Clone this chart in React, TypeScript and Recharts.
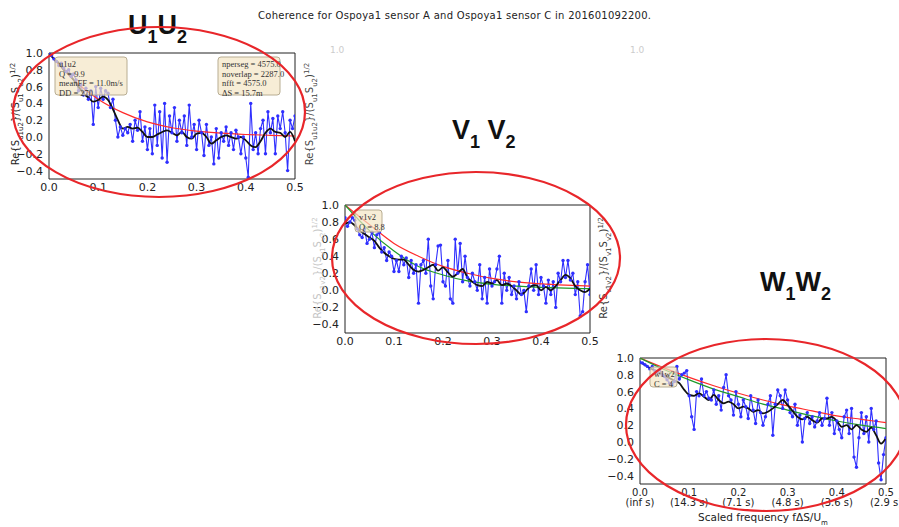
import { LineChart, Line, XAxis, YAxis, ReferenceArea } from "recharts";

// frequency grids (scaled frequency fΔS/U)
const FREQ_FINE = [
  0, 0.005, 0.01, 0.015, 0.02, 0.025, 0.03, 0.035, 0.04, 0.045,
  0.05, 0.055, 0.06, 0.065, 0.07, 0.075, 0.08, 0.085, 0.09, 0.095,
  0.1, 0.105, 0.11, 0.115, 0.12, 0.125, 0.13, 0.135, 0.14, 0.145,
  0.15, 0.155, 0.16, 0.165, 0.17, 0.175, 0.18, 0.185, 0.19, 0.195,
  0.2, 0.205, 0.21, 0.215, 0.22, 0.225, 0.23, 0.235, 0.24, 0.245,
  0.25, 0.255, 0.26, 0.265, 0.27, 0.275, 0.28, 0.285, 0.29, 0.295,
  0.3, 0.305, 0.31, 0.315, 0.32, 0.325, 0.33, 0.335, 0.34, 0.345,
  0.35, 0.355, 0.36, 0.365, 0.37, 0.375, 0.38, 0.385, 0.39, 0.395,
  0.4, 0.405, 0.41, 0.415, 0.42, 0.425, 0.43, 0.435, 0.44, 0.445,
  0.45, 0.455, 0.46, 0.465, 0.47, 0.475, 0.48, 0.485, 0.49, 0.495, 0.5,
];
const FREQ_COARSE = [
  0, 0.01, 0.02, 0.03, 0.04, 0.05, 0.06, 0.07, 0.08, 0.09,
  0.1, 0.11, 0.12, 0.13, 0.14, 0.15, 0.16, 0.17, 0.18, 0.19,
  0.2, 0.21, 0.22, 0.23, 0.24, 0.25, 0.26, 0.27, 0.28, 0.29,
  0.3, 0.31, 0.32, 0.33, 0.34, 0.35, 0.36, 0.37, 0.38, 0.39,
  0.4, 0.41, 0.42, 0.43, 0.44, 0.45, 0.46, 0.47, 0.48, 0.49, 0.5,
];
const FREQ_FIT = [0, 0.05, 0.1, 0.15, 0.2, 0.25, 0.3, 0.35, 0.4, 0.45, 0.5];

const X_TICKS = [0, 0.1, 0.2, 0.3, 0.4, 0.5];
const Y_TICKS = [-0.4, -0.2, 0, 0.2, 0.4, 0.6, 0.8, 1.0];
const PERIOD_LABELS = ["(inf s)", "(14.3 s)", "(7.1 s)", "(4.8 s)", "(3.6 s)", "(2.9 s)"];

// u1u2
const U_RAW = [
  1.0, 0.97, 0.93, 0.9, 0.85, 0.88, 0.82, 0.78, 0.8, 0.72,
  0.75, 0.68, 0.55, 0.62, 0.5, 0.58, 0.45, 0.55, 0.15, 0.6,
  0.35, 0.58, 0.45, 0.55, 0.52, 0.35, 0.45, 0.2, 0.0, 0.12,
  0.02, 0.1, 0.05, 0.15, -0.05, 0.2, 0.08, 0.3, -0.05, 0.12,
  -0.15, 0.1, -0.2, 0.38, -0.1, 0.3, -0.25, 0.4, -0.3, 0.25,
  0.05, 0.35, -0.05, 0.2, 0.05, 0.25, -0.1, 0.38, 0.0, 0.15,
  -0.15, 0.2, 0.05, -0.22, 0.15, -0.1, 0.0, -0.32, 0.1, -0.25,
  0.05, -0.05, 0.12, -0.1, 0.05, -0.15, 0.08, 0.0, -0.2, 0.0,
  -0.25, -0.48, 0.4, -0.15, 0.05, -0.2, 0.1, 0.2, -0.2, 0.3,
  0.05, 0.22, -0.2, 0.25, 0.1, 0.3, 0.05, -0.4, 0.2, 0.1, 0.25,
];
const U_SMOOTH = [
  1.0, 0.93, 0.88, 0.8, 0.75, 0.68, 0.6, 0.52, 0.47, 0.42,
  0.44, 0.48, 0.44, 0.33, 0.2, 0.1, 0.12, 0.1, 0.11, 0.06,
  0.0, 0.0, 0.03, 0.06, 0.08, 0.05, 0.02, 0.06, 0.0, -0.02,
  0.04, 0.05, 0.0, -0.08, -0.04, 0.0, 0.02, 0.0, -0.02, 0.0,
  -0.04, -0.1, -0.12, -0.05, 0.05, 0.1, 0.06, 0.05, 0.0, 0.06, -0.05,
];
const U_FIT = [1.0, 0.68, 0.45, 0.29, 0.18, 0.11, 0.07, 0.045, 0.03, 0.02, 0.012];

// v1v2
const V_RAW = [
  0.85, 0.75, 0.8, 0.85, 0.82, 0.72, 0.65, 0.62, 0.72, 0.55,
  0.6, 0.68, 0.5, 0.65, 0.68, 0.45, 0.5, 0.35, 0.45, 0.4,
  0.22, 0.35, 0.22, 0.4, 0.3, 0.38, 0.15, 0.35, 0.2, 0.3,
  -0.15, 0.3, 0.35, 0.2, 0.6, 0.05, -0.1, 0.3, 0.52, 0.53,
  0.1, 0.05, 0.35, -0.1, -0.15, 0.6, 0.2, 0.55, 0.1, 0.4,
  0.15, 0.05, 0.2, 0.1, 0.0, 0.3, -0.1, 0.15, -0.15, 0.25,
  0.05, 0.1, 0.25, 0.4, -0.15, 0.2, 0.0, 0.15, -0.05, 0.05,
  -0.1, 0.1, -0.05, 0.0, -0.25, 0.05, 0.25, 0.0, 0.3, -0.05,
  0.15, 0.05, -0.15, 0.12, -0.05, 0.1, -0.2, 0.2, 0.1, 0.35,
  0.15, 0.35, 0.12, 0.2, -0.05, 0.1, -0.3, -0.25, 0.1, 0.3, -0.05,
];
const V_SMOOTH = [
  0.78, 0.8, 0.76, 0.7, 0.66, 0.62, 0.58, 0.5, 0.44, 0.4,
  0.37, 0.36, 0.36, 0.3, 0.24, 0.22, 0.24, 0.27, 0.3, 0.23,
  0.27, 0.21, 0.16, 0.2, 0.25, 0.15, 0.1, 0.06, 0.05, 0.1,
  0.08, 0.12, 0.06, 0.08, 0.05, 0.0, -0.05, 0.0, 0.05, 0.06,
  0.0, 0.04, 0.0, 0.05, 0.12, 0.18, 0.14, 0.05, 0.0, -0.02, 0.02,
];
const V_FIT_RED = [1.0, 0.77, 0.55, 0.4, 0.28, 0.2, 0.14, 0.1, 0.075, 0.06, 0.05];
const V_FIT_GREEN = [1.0, 0.7, 0.46, 0.28, 0.18, 0.11, 0.07, 0.05, 0.035, 0.025, 0.02];

// w1w2
const W_RAW = [
  0.95, 0.94, 0.92, 0.9, 0.87, 0.9, 0.85, 0.83, 0.86, 0.8,
  0.78, 0.74, 0.7, 0.68, 0.72, 0.9, 0.75, 0.8, 0.82, 0.85,
  0.55, 0.3, 0.15, 0.6, 0.55, 0.75, 0.55, 0.6, 0.52, 0.5,
  0.62, 0.45, 0.55, 0.38, 0.65, 0.8, 0.55, 0.5, 0.32, 0.6,
  0.45, 0.3, 0.5, 0.42, 0.28, 0.55, 0.38, 0.22, 0.5, 0.35,
  0.2, 0.3, 0.45, 0.55, 0.08, 0.45, 0.62, 0.55, 0.4, 0.62,
  0.5, 0.35, 0.3, 0.45, 0.2, 0.32, 0.0, 0.28, 0.35, 0.22,
  0.3, 0.18, 0.25, 0.35, 0.2, 0.28, 0.52, 0.2, 0.35, 0.1,
  0.25, 0.15, 0.05, 0.3, 0.38, 0.1, 0.4, -0.18, -0.3, 0.05,
  0.35, 0.1, 0.3, 0.0, 0.4, 0.15, 0.25, -0.25, -0.45, -0.15, 0.05,
];
const W_SMOOTH = [
  0.95, 0.92, 0.88, 0.85, 0.82, 0.79, 0.76, 0.73, 0.7, 0.62,
  0.56, 0.55, 0.58, 0.54, 0.5, 0.56, 0.5, 0.46, 0.48, 0.45,
  0.4, 0.42, 0.4, 0.36, 0.38, 0.34, 0.36, 0.4, 0.45, 0.5,
  0.44, 0.37, 0.3, 0.27, 0.3, 0.26, 0.23, 0.28, 0.28, 0.3,
  0.25, 0.18, 0.2, 0.15, 0.2, 0.15, 0.12, 0.17, 0.08, -0.02, 0.05,
];
const W_FIT_RED = [1.0, 0.88, 0.77, 0.67, 0.58, 0.5, 0.43, 0.37, 0.31, 0.27, 0.23];
const W_FIT_GREEN = [1.0, 0.86, 0.74, 0.63, 0.54, 0.45, 0.38, 0.31, 0.25, 0.2, 0.16];

const BLUE = "#2f2fff";
const TICK_FONT = { fontSize: 11, fill: "#222", fontFamily: "DejaVu Sans" };
const SMALL_TICK = { fontSize: 10, fill: "#222", fontFamily: "DejaVu Sans" };

const toPoints = (xs: number[], ys: number[]) => xs.map((f, i) => ({ f, v: ys[i] }));
const fmt = (v: number) => (v < 0 ? "\u2212" + Math.abs(v).toFixed(1) : v.toFixed(1));

const PeriodTick = ({ x, y, payload }: any) => {
  const idx = Math.round(payload.value * 10);
  return (
    <g>
      <text x={x} y={y} dy={8} textAnchor="middle" {...SMALL_TICK}>
        {payload.value.toFixed(1)}
      </text>
      <text x={x} y={y} dy={18} textAnchor="middle" {...SMALL_TICK}>
        {PERIOD_LABELS[idx]}
      </text>
    </g>
  );
};

interface PanelProps {
  left: number;
  top: number;
  w: number;
  h: number;
  raw: number[];
  smooth: number[];
  red: number[];
  green?: number[];
  periods?: boolean;
}

function Panel({ left, top, w, h, raw, smooth, red, green, periods }: PanelProps) {
  return (
    <div style={{ position: "absolute", left: left - 45, top: top - 5 }}>
      <LineChart
        width={w + 70}
        height={h + 35}
        margin={{ top: 5, right: 25, left: 0, bottom: 0 }}
      >
        <XAxis
          dataKey="f"
          type="number"
          domain={[0, 0.5]}
          ticks={X_TICKS}
          interval={0}
          height={30}
          axisLine={false}
          tickLine={false}
          tickSize={3}
          tickMargin={1}
          tick={periods ? <PeriodTick /> : TICK_FONT}
          tickFormatter={(v: number) => v.toFixed(1)}
          allowDataOverflow
        />
        <YAxis
          type="number"
          domain={[-0.5, 1.0]}
          ticks={Y_TICKS}
          interval={0}
          width={45}
          axisLine={false}
          tickLine={false}
          tickSize={4}
          tickMargin={2}
          tick={TICK_FONT}
          tickFormatter={fmt}
          allowDataOverflow
        />
        <ReferenceArea x1={0} x2={0.5} y1={-0.5} y2={1.0} fill="none" stroke="#222" strokeWidth={1} />
        <Line
          data={toPoints(FREQ_FINE, raw)}
          dataKey="v"
          stroke={BLUE}
          strokeWidth={1.1}
          dot={{ r: 1.7, fill: BLUE, stroke: BLUE, strokeWidth: 0 }}
          isAnimationActive={false}
        />
        <Line
          data={toPoints(FREQ_FIT, red)}
          dataKey="v"
          type="monotone"
          stroke="#ff2a2a"
          strokeWidth={1.2}
          dot={false}
          isAnimationActive={false}
        />
        {green && (
          <Line
            data={toPoints(FREQ_FIT, green)}
            dataKey="v"
            type="monotone"
            stroke="#1f9a2a"
            strokeWidth={1.2}
            dot={false}
            isAnimationActive={false}
          />
        )}
        <Line
          data={toPoints(FREQ_COARSE, smooth)}
          dataKey="v"
          type="monotone"
          stroke="#111"
          strokeWidth={1.8}
          dot={false}
          isAnimationActive={false}
        />
      </LineChart>
    </div>
  );
}

const SUB = { fontSize: 7, baselineShift: "sub" } as any;
const SUP = { fontSize: 7, baselineShift: "super" } as any;

function CoherenceLabel({ x, y, a, b, color }: { x: number; y: number; a: string; b: string; color: string }) {
  return (
    <text
      x={x}
      y={y}
      transform={`rotate(-90 ${x} ${y})`}
      textAnchor="middle"
      fontSize={10}
      fontFamily="DejaVu Sans"
      fill={color}
    >
      Re{"{"}S<tspan style={SUB}>{a + b}</tspan>
      <tspan>{"}"}/(S</tspan>
      <tspan style={SUB}>{a}</tspan>
      <tspan>S</tspan>
      <tspan style={SUB}>{b}</tspan>
      <tspan>)</tspan>
      <tspan style={SUP}>1/2</tspan>
    </text>
  );
}

function InfoBox({ x, y, w, h, lines }: { x: number; y: number; w: number; h: number; lines: string[] }) {
  return (
    <g>
      <rect x={x} y={y} width={w} height={h} rx={3} fill="#f3e6c4" fillOpacity={0.7} stroke="#b8ad92" strokeWidth={1} />
      {lines.map((t, i) => (
        <text key={i} x={x + 4} y={y + 10 + i * 9.5} fontSize={8.5} fontFamily="Liberation Serif" fill="#333">
          {t}
        </text>
      ))}
    </g>
  );
}

function BigLabel({ x, y, a, b, gap }: { x: number; y: number; a: string; b: string; gap?: boolean }) {
  return (
    <text x={x} y={y} fontSize={27} fontWeight="bold" fontFamily="Liberation Sans" fill="#111">
      {a}
      <tspan fontSize={18} dy={9}>1</tspan>
      <tspan dy={-9}>{gap ? " " + b : b}</tspan>
      <tspan fontSize={18} dy={9}>2</tspan>
    </text>
  );
}

export default function App() {
  return (
    <div style={{ position: "absolute", left: 0, top: 0, width: 899, height: 527, background: "#fff", overflow: "hidden" }}>
      <Panel left={49} top={53} w={246} h={126} raw={U_RAW} smooth={U_SMOOTH} red={U_FIT} />
      <Panel left={345} top={205} w={245} h={128} raw={V_RAW} smooth={V_SMOOTH} red={V_FIT_RED} green={V_FIT_GREEN} />
      <Panel
        left={640}
        top={358}
        w={246}
        h={126}
        raw={W_RAW}
        smooth={W_SMOOTH}
        red={W_FIT_RED}
        green={W_FIT_GREEN}
        periods
      />
      <svg width={899} height={527} style={{ position: "absolute", left: 0, top: 0, pointerEvents: "none" }}>
        <text x={258} y={19} fontSize={10} fontFamily="DejaVu Sans" fill="#222" textLength={393}>
          Coherence for Ospoya1 sensor A and Ospoya1 sensor C in 201601092200.
        </text>
        <text x={330} y={53} fontSize={9} fontFamily="DejaVu Sans" fill="#ccc">1.0</text>
        <text x={630} y={53} fontSize={9} fontFamily="DejaVu Sans" fill="#ccc">1.0</text>

        <InfoBox x={55} y={57} w={72} h={38} lines={["u1u2", "Q = 9.9", "meanFF = 11.0m/s", "DD = 270"]} />
        <InfoBox x={218} y={57} w={62} h={38} lines={["nperseg = 4575.0", "noverlap = 2287.0", "nfft = 4575.0", "\u0394S = 15.7m"]} />
        <InfoBox x={355} y={210} w={27} h={22} lines={["v1v2", "Q = 8.8"]} />
        <InfoBox x={650} y={367} w={27} h={20} lines={["w1w2", "C = 4"]} />

        <CoherenceLabel x={19} y={114} a="u1" b="u2" color="#222" />
        <CoherenceLabel x={313} y={114} a="u1" b="u2" color="#444" />
        <CoherenceLabel x={321} y={268} a="v1" b="v2" color="#c4c4c4" />
        <CoherenceLabel x={607} y={268} a="v1" b="v2" color="#333" />

        <text x={763} y={521} textAnchor="middle" fontSize={10.5} fontFamily="DejaVu Sans" fill="#222">
          Scaled frequency f{"\u0394"}S/U<tspan style={SUB}>m</tspan>
        </text>

        <BigLabel x={128} y={34} a="U" b="U" />
        <BigLabel x={452} y={139} a="V" b="V" gap />
        <BigLabel x={760} y={291} a="W" b="W" />

        <ellipse cx={159} cy={112} rx={146} ry={85} fill="none" stroke="#e8262a" strokeWidth={2.2} />
        <ellipse cx={476} cy={258} rx={144} ry={86} fill="none" stroke="#e8262a" strokeWidth={2.2} />
        <ellipse cx={766} cy={425} rx={140} ry={86} fill="none" stroke="#e8262a" strokeWidth={2.2} />
      </svg>
    </div>
  );
}
